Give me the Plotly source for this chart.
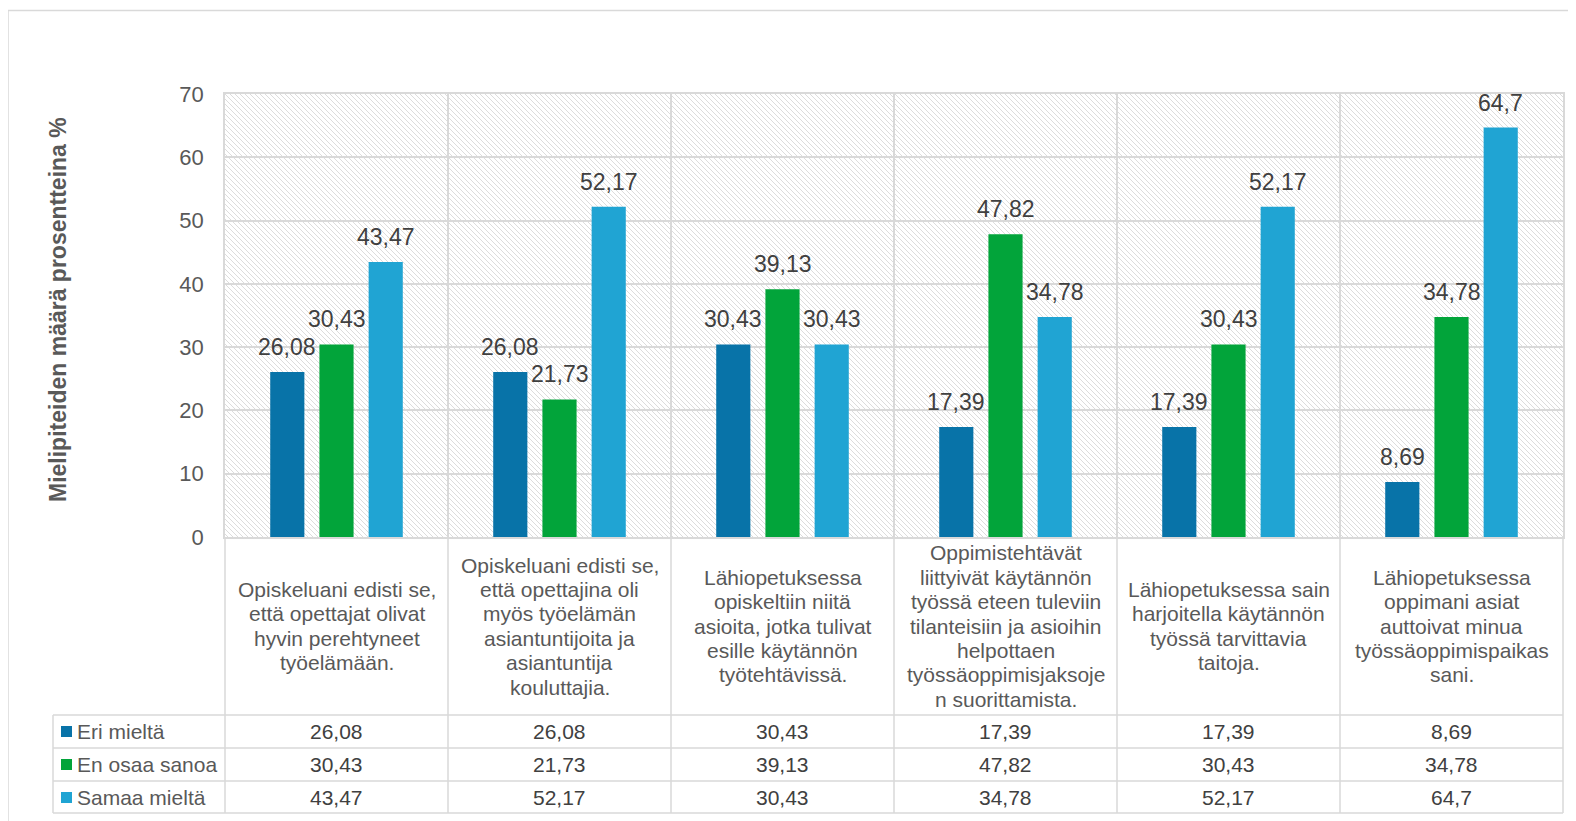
import base64
import plotly.graph_objects as go

# ---------------- data ----------------
categories = [
    "Opiskeluani edisti se,\nettä opettajat olivat\nhyvin perehtyneet\ntyöelämään.",
    "Opiskeluani edisti se,\nettä opettajina oli\nmyös työelämän\nasiantuntijoita ja\nasiantuntija\nkouluttajia.",
    "Lähiopetuksessa\nopiskeltiin niitä\nasioita, jotka tulivat\nesille käytännön\ntyötehtävissä.",
    "Oppimistehtävät\nliittyivät käytännön\ntyössä eteen tuleviin\ntilanteisiin ja asioihin\nhelpottaen\ntyössäoppimisjaksoje\nn suorittamista.",
    "Lähiopetuksessa sain\nharjoitella käytännön\ntyössä tarvittavia\ntaitoja.",
    "Lähiopetuksessa\noppimani asiat\nauttoivat minua\ntyössäoppimispaikas\nsani.",
]
series_names = ["Eri mieltä", "En osaa sanoa", "Samaa mieltä"]
eri_mielta = [26.08, 26.08, 30.43, 17.39, 17.39, 8.69]
en_osaa_sanoa = [30.43, 21.73, 39.13, 47.82, 30.43, 34.78]
samaa_mielta = [43.47, 52.17, 30.43, 34.78, 52.17, 64.7]
series_values = [eri_mielta, en_osaa_sanoa, samaa_mielta]
series_colors = ["#0873a8", "#02a43a", "#20a4d3"]
y_title = "Mielipiteiden määrä prosentteina %"
y_ticks = [0, 10, 20, 30, 40, 50, 60, 70]

# ---------------- geometry (page pixels) ----------------
PAGE_W, PAGE_H = 1576, 821
OFF = 8  # default body margin of the page
W, H = PAGE_W - OFF, PAGE_H - OFF
PL, PR, PT, PB = 225, 1563, 94, 537
pw, ph = PR - PL, PB - PT
FONT = "Arial, Liberation Sans, sans-serif"
GRID = "#d9d9d9"
BARGAP, BARGROUPGAP = 0.338, 0.306


def px_x(x):
    return (x - PL) / pw


def px_y(y):
    return (PB - y) / ph


def fmt(v):
    return ("%g" % v).replace(".", ",")


x_idx = list(range(len(categories)))
n_series = len(series_names)
slot = (1 - BARGAP) / n_series

fig = go.Figure()
shapes = []
annots = []

for s, (name, vals, col) in enumerate(zip(series_names, series_values, series_colors)):
    fig.add_trace(go.Bar(
        x=x_idx, y=vals, name=name, marker_color=col, marker_line_width=0,
        showlegend=False,
    ))
    # data labels above each bar
    dx = (s - (n_series - 1) / 2) * slot
    for xi, v in zip(x_idx, vals):
        annots.append(dict(xref="x", yref="y", x=xi + dx, y=v, text=fmt(v),
                           showarrow=False, xanchor="center", yanchor="middle",
                           yshift=25,
                           font=dict(size=23, color="#404040", family=FONT)))

# hatched background image for plot area
svg = (
    f'<svg xmlns="http://www.w3.org/2000/svg" width="{pw}" height="{ph}">'
    '<defs><pattern id="p" width="5" height="5" patternUnits="userSpaceOnUse">'
    '<path d="M-1,-1 L6,6 M-1,4 L1,6 M4,-1 L6,1" stroke="#dcdcdc" stroke-width="1"/>'
    '</pattern></defs>'
    f'<rect width="{pw}" height="{ph}" fill="white"/>'
    f'<rect width="{pw}" height="{ph}" fill="url(#p)"/></svg>'
)
src = "data:image/svg+xml;base64," + base64.b64encode(svg.encode()).decode()
fig.add_layout_image(dict(source=src, xref="paper", yref="paper", x=0, y=1,
                          sizex=1, sizey=1, sizing="stretch", layer="below",
                          xanchor="left", yanchor="top"))

# outer chart border (top & left visible)
shapes.append(dict(type="rect", xref="paper", yref="paper",
                   x0=px_x(8), x1=px_x(1600), y0=px_y(840), y1=px_y(10.5),
                   line=dict(color=GRID, width=1.5), layer="below"))

# table lines
n = len(categories)
cw = pw / n
row_lines = [715, 748, 781, 813]
for yy in row_lines:
    shapes.append(dict(type="line", xref="paper", yref="paper",
                       x0=px_x(53), x1=px_x(PR), y0=px_y(yy), y1=px_y(yy),
                       line=dict(color=GRID, width=1.5)))
for k in range(n + 1):
    xx = PL + k * cw
    shapes.append(dict(type="line", xref="paper", yref="paper",
                       x0=px_x(xx), x1=px_x(xx), y0=px_y(PB), y1=px_y(813),
                       line=dict(color=GRID, width=1.5)))
shapes.append(dict(type="line", xref="paper", yref="paper",
                   x0=px_x(53), x1=px_x(53), y0=px_y(715), y1=px_y(813),
                   line=dict(color=GRID, width=1.5)))

# category labels
line_h = 24.4
for k, cat in enumerate(categories):
    lines = cat.split("\n")
    cx = PL + (k + 0.5) * cw
    y0 = 626 - (len(lines) - 1) * line_h / 2
    for j, ln in enumerate(lines):
        annots.append(dict(xref="paper", yref="paper", x=px_x(cx), y=px_y(y0 + j * line_h),
                           text=ln, showarrow=False, xanchor="center", yanchor="middle",
                           font=dict(size=21, color="#595959", family=FONT)))

# table rows: legend keys + values
row_centers = [731.5, 764.5, 797.5]
for r, (name, vals, col) in enumerate(zip(series_names, series_values, series_colors)):
    cy = row_centers[r]
    shapes.append(dict(type="rect", xref="paper", yref="paper",
                       x0=px_x(61), x1=px_x(72), y0=px_y(cy + 5.5), y1=px_y(cy - 5.5),
                       fillcolor=col, line=dict(width=0)))
    annots.append(dict(xref="paper", yref="paper", x=px_x(75), y=px_y(cy),
                       text=name, showarrow=False, xanchor="left", yanchor="middle",
                       font=dict(size=21, color="#595959", family=FONT)))
    for k, v in enumerate(vals):
        cx = PL + (k + 0.5) * cw
        annots.append(dict(xref="paper", yref="paper", x=px_x(cx), y=px_y(cy),
                           text=fmt(v), showarrow=False, xanchor="center", yanchor="middle",
                           font=dict(size=21, color="#404040", family=FONT)))

# y-axis title
annots.append(dict(xref="paper", yref="paper", x=px_x(58), y=px_y(310),
                   text=y_title, showarrow=False, textangle=-90,
                   xanchor="center", yanchor="middle",
                   font=dict(size=23, color="#595959", family=FONT, weight="bold")))

fig.update_layout(
    width=W, height=H, autosize=False,
    margin=dict(l=PL - OFF, r=PAGE_W - PR, t=PT - OFF, b=PAGE_H - PB, pad=0),
    paper_bgcolor="white", plot_bgcolor="rgba(0,0,0,0)",
    barmode="group", bargap=BARGAP, bargroupgap=BARGROUPGAP,
    shapes=shapes, annotations=annots, showlegend=False,
    font=dict(family=FONT),
)
fig.update_xaxes(range=[-0.5, n - 0.5], tickvals=[k - 0.5 for k in range(n + 1)],
                 showticklabels=False, showgrid=True, gridcolor=GRID, gridwidth=1.5,
                 showline=True, linecolor=GRID, linewidth=1.5, mirror=True, zeroline=False,
                 ticks="")
fig.update_yaxes(range=[0, 70], tickvals=y_ticks, showgrid=True, gridcolor=GRID, gridwidth=1.5,
                 showline=True, linecolor=GRID, linewidth=1.5, mirror=True, zeroline=False,
                 ticks="outside", ticklen=15, tickcolor="rgba(0,0,0,0)",
                 tickfont=dict(size=22, color="#595959", family=FONT))

fig.write_html("out.html")
